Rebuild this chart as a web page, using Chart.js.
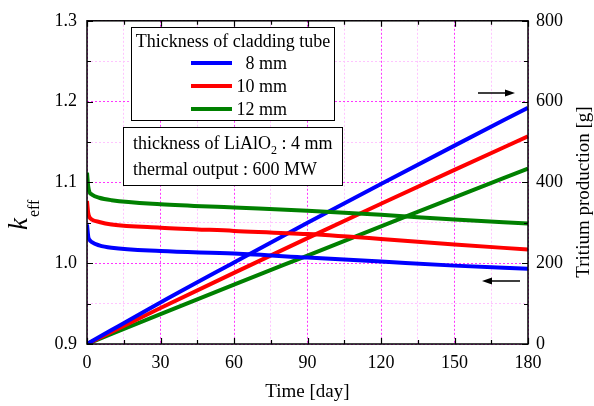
<!DOCTYPE html>
<html>
<head>
<meta charset="utf-8">
<script src="https://cdn.jsdelivr.net/npm/chart.js@4.4.1/dist/chart.umd.min.js"></script>
<style>
  html, body { margin: 0; padding: 0; background: #fff; }
  #wrap { width: 594px; height: 406px; }
</style>
</head>
<body>
<div id="wrap"><canvas id="c" width="594" height="406"></canvas></div>
<script>
// k_eff vs time, one curve per cladding thickness
const keffDays = [0, 0.5, 1, 2, 5, 10, 30, 60, 90, 120, 150, 180];
const keff8mm  = [1.048, 1.033, 1.029, 1.026, 1.022, 1.019, 1.015, 1.012, 1.007, 1.002, 0.997, 0.993];
const keff10mm = [1.077, 1.062, 1.057, 1.054, 1.051, 1.048, 1.044, 1.040, 1.036, 1.030, 1.023, 1.017];
const keff12mm = [1.112, 1.095, 1.088, 1.085, 1.081, 1.078, 1.073, 1.069, 1.065, 1.060, 1.054, 1.049];

// tritium production [g] vs time
const prodDays  = [0, 30, 60, 90, 120, 150, 180];
const prod8mm   = [0, 103, 202, 300, 396, 491, 585];
const prod10mm  = [0, 89, 176, 262, 347, 431, 514];
const prod12mm  = [0, 74, 147, 219, 291, 363, 434];

const seriesNames = ['8 mm', '10 mm', '12 mm'];
const seriesColors = ['#0000ff', '#ff0000', '#008000'];

const xMajorTicks = [0, 30, 60, 90, 120, 150, 180];
const keffMajorTicks = [0.9, 1.0, 1.1, 1.2, 1.3];
const prodMajorTicks = [0, 200, 400, 600, 800];

const FONT = "'Liberation Serif', 'Times New Roman', serif";

function pts(xs, ys) {
  return xs.map((x, i) => ({ x: x, y: ys[i] }));
}

const isMajor = (list, v) => list.some(t => Math.abs(t - v) < 1e-6);

const datasets = [];
[keff8mm, keff10mm, keff12mm].forEach((d, i) => {
  datasets.push({
    label: 'keff ' + seriesNames[i],
    data: pts(keffDays, d),
    yAxisID: 'y',
    borderColor: seriesColors[i],
    borderWidth: 4,
    pointRadius: 0,
    cubicInterpolationMode: 'monotone'
  });
});
[prod8mm, prod10mm, prod12mm].forEach((d, i) => {
  datasets.push({
    label: 'tritium ' + seriesNames[i],
    data: pts(prodDays, d),
    yAxisID: 'y2',
    borderColor: seriesColors[i],
    borderWidth: 4,
    pointRadius: 0,
    cubicInterpolationMode: 'monotone'
  });
});

const majorGrid = '#ff33ff';
const minorGrid = '#ffc4ff';

const decor = {
  id: 'decor',
  afterDraw(chart) {
    const ctx = chart.ctx;
    const a = chart.chartArea;
    const sx = chart.scales.x, sy = chart.scales.y, sy2 = chart.scales.y2;
    ctx.save();

    // frame
    ctx.strokeStyle = '#000';
    ctx.lineWidth = 1.5;
    ctx.strokeRect(a.left, a.top, a.right - a.left, a.bottom - a.top);

    // inward ticks
    ctx.lineWidth = 1.2;
    ctx.beginPath();
    for (let v = 0; v <= 180; v += 15) {
      const p = Math.round(sx.getPixelForValue(v)) + 0.5;
      const len = isMajor(xMajorTicks, v) ? 6 : 4;
      ctx.moveTo(p, a.bottom); ctx.lineTo(p, a.bottom - len);
      ctx.moveTo(p, a.top); ctx.lineTo(p, a.top + len);
    }
    for (let k = 0; k <= 8; k++) {
      const v = 0.9 + k * 0.05;
      const p = Math.round(sy.getPixelForValue(v)) + 0.5;
      const len = k % 2 === 0 ? 6 : 4;
      ctx.moveTo(a.left, p); ctx.lineTo(a.left + len, p);
    }
    for (let v = 0; v <= 800; v += 100) {
      const p = Math.round(sy2.getPixelForValue(v)) + 0.5;
      const len = isMajor(prodMajorTicks, v) ? 6 : 4;
      ctx.moveTo(a.right, p); ctx.lineTo(a.right - len, p);
    }
    ctx.stroke();

    // legend box
    ctx.fillStyle = '#fff';
    ctx.fillRect(131, 27, 203, 93);
    ctx.lineWidth = 1;
    ctx.strokeStyle = '#000';
    ctx.strokeRect(131.5, 27.5, 203, 93);
    ctx.fillStyle = '#000';
    ctx.font = '18px ' + FONT;
    ctx.textBaseline = 'middle';
    ctx.textAlign = 'center';
    ctx.fillText('Thickness of cladding tube', 233, 42);
    const rowY = [63, 86, 109];
    seriesNames.forEach((n, i) => {
      ctx.strokeStyle = seriesColors[i];
      ctx.lineWidth = 4;
      ctx.beginPath();
      ctx.moveTo(191, rowY[i]); ctx.lineTo(232, rowY[i]);
      ctx.stroke();
      ctx.textAlign = 'right';
      ctx.fillText(n, 287, rowY[i] + 1);
    });

    // conditions box
    ctx.fillStyle = '#fff';
    ctx.fillRect(123, 127, 219, 58);
    ctx.strokeStyle = '#000';
    ctx.lineWidth = 1;
    ctx.strokeRect(123.5, 127.5, 219, 58);
    ctx.fillStyle = '#000';
    ctx.textAlign = 'left';
    ctx.font = '18px ' + FONT;
    let t1 = 'thickness of LiAlO';
    ctx.fillText(t1, 133, 144);
    let w = ctx.measureText(t1).width;
    ctx.font = '12px ' + FONT;
    ctx.fillText('2', 133 + w, 151);
    let w2 = ctx.measureText('2').width;
    ctx.font = '18px ' + FONT;
    ctx.fillText(' : 4 mm', 133 + w + w2, 144);
    ctx.fillText('thermal output : 600 MW', 133, 170);

    // arrows pointing to the axis each curve set belongs to
    ctx.strokeStyle = '#000';
    ctx.fillStyle = '#000';
    ctx.lineWidth = 1.5;
    ctx.beginPath();
    ctx.moveTo(478, 93); ctx.lineTo(508, 93);
    ctx.moveTo(520, 281); ctx.lineTo(488, 281);
    ctx.stroke();
    ctx.beginPath();
    ctx.moveTo(515, 93); ctx.lineTo(505, 89.5); ctx.lineTo(505, 96.5); ctx.closePath();
    ctx.moveTo(482, 281); ctx.lineTo(492, 277.5); ctx.lineTo(492, 284.5); ctx.closePath();
    ctx.fill();

    // axis titles
    ctx.fillStyle = '#000';
    ctx.font = '19px ' + FONT;
    ctx.textAlign = 'center';
    ctx.textBaseline = 'middle';
    ctx.fillText('Time [day]', (a.left + a.right) / 2, 392);

    ctx.save();
    ctx.translate(584, 192);
    ctx.rotate(-Math.PI / 2);
    ctx.fillText('Tritium production [g]', 0, 0);
    ctx.restore();

    ctx.save();
    ctx.translate(27, 230);
    ctx.rotate(-Math.PI / 2);
    ctx.textAlign = 'left';
    ctx.textBaseline = 'alphabetic';
    ctx.font = 'italic 27px ' + FONT;
    ctx.fillText('k', 0, 0);
    const kw = ctx.measureText('k').width;
    ctx.font = '16px ' + FONT;
    ctx.fillText('eff', kw + 1, 12);
    ctx.restore();

    ctx.restore();
  }
};

const tickFont = { family: FONT, size: 18 };

new Chart(document.getElementById('c'), {
  type: 'line',
  data: { datasets: datasets },
  options: {
    responsive: false,
    animation: false,
    devicePixelRatio: 1,
    layout: { padding: { top: 19, left: 0, right: 0, bottom: 0 } },
    plugins: {
      legend: { display: false },
      tooltip: { enabled: false }
    },
    scales: {
      x: {
        type: 'linear',
        position: 'bottom',
        min: 0,
        max: 180,
        afterFit: s => { s.height = 62; },
        ticks: {
          stepSize: 15,
          autoSkip: false,
          maxRotation: 0,
          padding: 8,
          color: '#000',
          font: tickFont,
          callback: v => isMajor(xMajorTicks, v) ? String(v) : ''
        },
        grid: {
          drawTicks: false,
          lineWidth: 1,
          color: c => isMajor(xMajorTicks, c.tick.value) ? majorGrid : minorGrid
        },
        border: { display: false, dash: [2, 2] }
      },
      y: {
        type: 'linear',
        position: 'left',
        min: 0.9,
        max: 1.3,
        afterFit: s => { s.width = 87; },
        ticks: {
          stepSize: 0.05,
          autoSkip: false,
          padding: 10,
          color: '#000',
          font: tickFont,
          callback: v => isMajor(keffMajorTicks, v) ? v.toFixed(1) : ''
        },
        grid: {
          drawTicks: false,
          lineWidth: 1,
          color: c => isMajor(keffMajorTicks, c.tick.value) ? majorGrid : minorGrid
        },
        border: { display: false, dash: [2, 2] }
      },
      y2: {
        type: 'linear',
        position: 'right',
        min: 0,
        max: 800,
        afterFit: s => { s.width = 66; },
        ticks: {
          stepSize: 100,
          autoSkip: false,
          padding: 8,
          color: '#000',
          font: tickFont,
          callback: v => isMajor(prodMajorTicks, v) ? String(v) : ''
        },
        grid: { display: false, drawTicks: false },
        border: { display: false }
      }
    }
  },
  plugins: [decor]
});
</script>
</body>
</html>
